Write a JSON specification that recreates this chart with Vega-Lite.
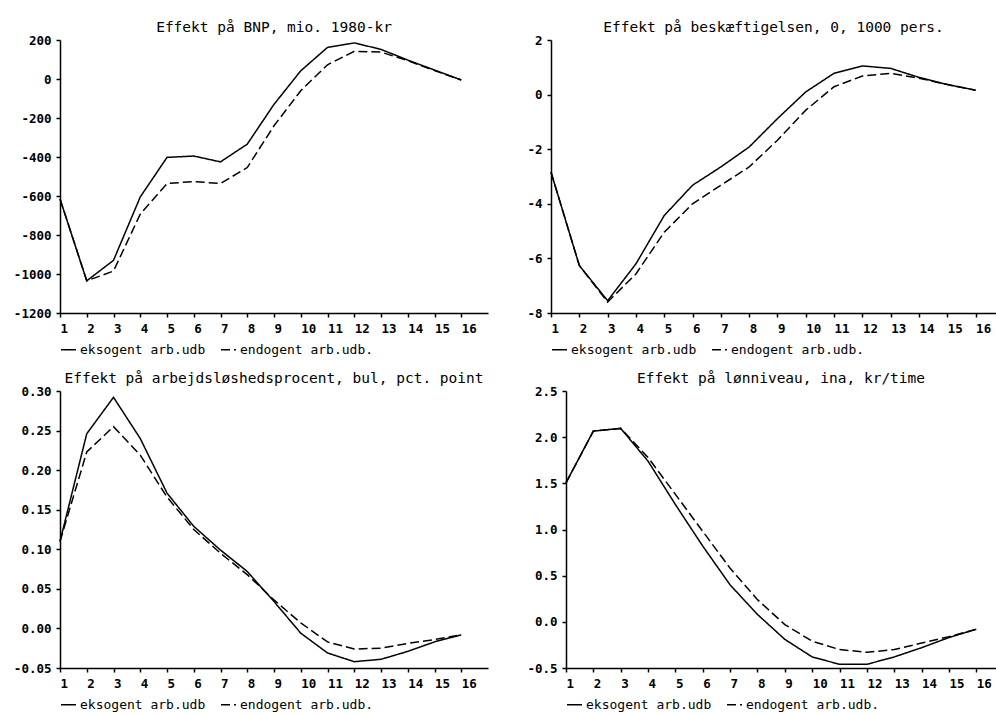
{
  "$schema": "https://vega.github.io/schema/vega-lite/v6.json",
  "background": "white",
  "padding": {"left": 10, "top": 19, "right": 0, "bottom": 0},
  "spacing": 13,
  "resolve": {"scale": {"strokeDash": "independent"}, "legend": {"strokeDash": "independent"}},
  "datasets": {
    "tl": [
      {"t":1,"s":"eksogent arb.udb","v":-615},{"t":2,"s":"eksogent arb.udb","v":-1035},{"t":3,"s":"eksogent arb.udb","v":-930},{"t":4,"s":"eksogent arb.udb","v":-605},
      {"t":5,"s":"eksogent arb.udb","v":-402},{"t":6,"s":"eksogent arb.udb","v":-395},{"t":7,"s":"eksogent arb.udb","v":-425},{"t":8,"s":"eksogent arb.udb","v":-334},
      {"t":9,"s":"eksogent arb.udb","v":-130},{"t":10,"s":"eksogent arb.udb","v":42},{"t":11,"s":"eksogent arb.udb","v":162},{"t":12,"s":"eksogent arb.udb","v":185},
      {"t":13,"s":"eksogent arb.udb","v":152},{"t":14,"s":"eksogent arb.udb","v":97},{"t":15,"s":"eksogent arb.udb","v":46},{"t":16,"s":"eksogent arb.udb","v":-5},
      {"t":1,"s":"endogent arb.udb.","v":-615},{"t":2,"s":"endogent arb.udb.","v":-1035},{"t":3,"s":"endogent arb.udb.","v":-985},{"t":4,"s":"endogent arb.udb.","v":-693},
      {"t":5,"s":"endogent arb.udb.","v":-536},{"t":6,"s":"endogent arb.udb.","v":-526},{"t":7,"s":"endogent arb.udb.","v":-536},{"t":8,"s":"endogent arb.udb.","v":-454},
      {"t":9,"s":"endogent arb.udb.","v":-240},{"t":10,"s":"endogent arb.udb.","v":-60},{"t":11,"s":"endogent arb.udb.","v":73},{"t":12,"s":"endogent arb.udb.","v":142},
      {"t":13,"s":"endogent arb.udb.","v":138},{"t":14,"s":"endogent arb.udb.","v":94},{"t":15,"s":"endogent arb.udb.","v":43},{"t":16,"s":"endogent arb.udb.","v":-5}
    ],
    "tr": [
      {"t":1,"s":"eksogent arb.udb","v":-2.84},{"t":2,"s":"eksogent arb.udb","v":-6.26},{"t":3,"s":"eksogent arb.udb","v":-7.55},{"t":4,"s":"eksogent arb.udb","v":-6.2},
      {"t":5,"s":"eksogent arb.udb","v":-4.43},{"t":6,"s":"eksogent arb.udb","v":-3.32},{"t":7,"s":"eksogent arb.udb","v":-2.65},{"t":8,"s":"eksogent arb.udb","v":-1.92},
      {"t":9,"s":"eksogent arb.udb","v":-0.88},{"t":10,"s":"eksogent arb.udb","v":0.1},{"t":11,"s":"eksogent arb.udb","v":0.78},{"t":12,"s":"eksogent arb.udb","v":1.05},
      {"t":13,"s":"eksogent arb.udb","v":0.96},{"t":14,"s":"eksogent arb.udb","v":0.63},{"t":15,"s":"eksogent arb.udb","v":0.37},{"t":16,"s":"eksogent arb.udb","v":0.16},
      {"t":1,"s":"endogent arb.udb.","v":-2.84},{"t":2,"s":"endogent arb.udb.","v":-6.26},{"t":3,"s":"endogent arb.udb.","v":-7.6},{"t":4,"s":"endogent arb.udb.","v":-6.57},
      {"t":5,"s":"endogent arb.udb.","v":-5.04},{"t":6,"s":"endogent arb.udb.","v":-4.0},{"t":7,"s":"endogent arb.udb.","v":-3.32},{"t":8,"s":"endogent arb.udb.","v":-2.65},
      {"t":9,"s":"endogent arb.udb.","v":-1.67},{"t":10,"s":"endogent arb.udb.","v":-0.57},{"t":11,"s":"endogent arb.udb.","v":0.29},{"t":12,"s":"endogent arb.udb.","v":0.68},
      {"t":13,"s":"endogent arb.udb.","v":0.78},{"t":14,"s":"endogent arb.udb.","v":0.6},{"t":15,"s":"endogent arb.udb.","v":0.37},{"t":16,"s":"endogent arb.udb.","v":0.16}
    ],
    "bl": [
      {"t":1,"s":"eksogent arb.udb","v":0.110},{"t":2,"s":"eksogent arb.udb","v":0.246},{"t":3,"s":"eksogent arb.udb","v":0.292},{"t":4,"s":"eksogent arb.udb","v":0.240},
      {"t":5,"s":"eksogent arb.udb","v":0.171},{"t":6,"s":"eksogent arb.udb","v":0.129},{"t":7,"s":"eksogent arb.udb","v":0.099},{"t":8,"s":"eksogent arb.udb","v":0.072},
      {"t":9,"s":"eksogent arb.udb","v":0.034},{"t":10,"s":"eksogent arb.udb","v":-0.006},{"t":11,"s":"eksogent arb.udb","v":-0.031},{"t":12,"s":"eksogent arb.udb","v":-0.042},
      {"t":13,"s":"eksogent arb.udb","v":-0.039},{"t":14,"s":"eksogent arb.udb","v":-0.029},{"t":15,"s":"eksogent arb.udb","v":-0.017},{"t":16,"s":"eksogent arb.udb","v":-0.008},
      {"t":1,"s":"endogent arb.udb.","v":0.110},{"t":2,"s":"endogent arb.udb.","v":0.223},{"t":3,"s":"endogent arb.udb.","v":0.255},{"t":4,"s":"endogent arb.udb.","v":0.219},
      {"t":5,"s":"endogent arb.udb.","v":0.166},{"t":6,"s":"endogent arb.udb.","v":0.125},{"t":7,"s":"endogent arb.udb.","v":0.095},{"t":8,"s":"endogent arb.udb.","v":0.068},
      {"t":9,"s":"endogent arb.udb.","v":0.036},{"t":10,"s":"endogent arb.udb.","v":0.007},{"t":11,"s":"endogent arb.udb.","v":-0.017},{"t":12,"s":"endogent arb.udb.","v":-0.026},
      {"t":13,"s":"endogent arb.udb.","v":-0.025},{"t":14,"s":"endogent arb.udb.","v":-0.019},{"t":15,"s":"endogent arb.udb.","v":-0.014},{"t":16,"s":"endogent arb.udb.","v":-0.008}
    ],
    "br": [
      {"t":1,"s":"eksogent arb.udb","v":1.506},{"t":2,"s":"eksogent arb.udb","v":2.066},{"t":3,"s":"eksogent arb.udb","v":2.095},{"t":4,"s":"eksogent arb.udb","v":1.74},
      {"t":5,"s":"eksogent arb.udb","v":1.27},{"t":6,"s":"eksogent arb.udb","v":0.82},{"t":7,"s":"eksogent arb.udb","v":0.40},{"t":8,"s":"eksogent arb.udb","v":0.08},
      {"t":9,"s":"eksogent arb.udb","v":-0.19},{"t":10,"s":"eksogent arb.udb","v":-0.38},{"t":11,"s":"eksogent arb.udb","v":-0.46},{"t":12,"s":"eksogent arb.udb","v":-0.46},
      {"t":13,"s":"eksogent arb.udb","v":-0.38},{"t":14,"s":"eksogent arb.udb","v":-0.28},{"t":15,"s":"eksogent arb.udb","v":-0.17},{"t":16,"s":"eksogent arb.udb","v":-0.08},
      {"t":1,"s":"endogent arb.udb.","v":1.506},{"t":2,"s":"endogent arb.udb.","v":2.066},{"t":3,"s":"endogent arb.udb.","v":2.095},{"t":4,"s":"endogent arb.udb.","v":1.78},
      {"t":5,"s":"endogent arb.udb.","v":1.38},{"t":6,"s":"endogent arb.udb.","v":0.98},{"t":7,"s":"endogent arb.udb.","v":0.58},{"t":8,"s":"endogent arb.udb.","v":0.24},
      {"t":9,"s":"endogent arb.udb.","v":-0.03},{"t":10,"s":"endogent arb.udb.","v":-0.21},{"t":11,"s":"endogent arb.udb.","v":-0.30},{"t":12,"s":"endogent arb.udb.","v":-0.33},
      {"t":13,"s":"endogent arb.udb.","v":-0.30},{"t":14,"s":"endogent arb.udb.","v":-0.23},{"t":15,"s":"endogent arb.udb.","v":-0.16},{"t":16,"s":"endogent arb.udb.","v":-0.08}
    ]
  },
  "vconcat": [
    {
      "hconcat": [
        {
          "width": 428, "height": 273,
          "title": "Effekt på BNP, mio. 1980-kr",
          "data": {"name": "tl"},
          "mark": {"type": "line", "interpolate": "linear"},
          "encoding": {
            "x": {"field": "t", "type": "quantitative", "scale": {"domain": [1, 17], "nice": false, "zero": false},
                  "axis": {"title": null, "values": [1,2,3,4,5,6,7,8,9,10,11,12,13,14,15,16], "format": "d", "minExtent": 25, "maxExtent": 25}},
            "y": {"field": "v", "type": "quantitative", "scale": {"domain": [-1200, 200], "nice": false, "zero": false},
                  "axis": {"title": null, "values": [-1200,-1000,-800,-600,-400,-200,0,200], "format": "d", "minExtent": 50, "maxExtent": 50}},
            "strokeDash": {"field": "s", "type": "nominal", "scale": {"domain": ["eksogent arb.udb", "endogent arb.udb."], "range": [[1,0],[9,4]]}, "legend": {"title": null}}
          }
        },
        {
          "width": 445, "height": 273,
          "title": "Effekt på beskæftigelsen, 0, 1000 pers.",
          "data": {"name": "tr"},
          "mark": {"type": "line", "interpolate": "linear"},
          "encoding": {
            "x": {"field": "t", "type": "quantitative", "scale": {"domain": [1, 16.72], "nice": false, "zero": false},
                  "axis": {"title": null, "values": [1,2,3,4,5,6,7,8,9,10,11,12,13,14,15,16], "format": "d", "minExtent": 25, "maxExtent": 25}},
            "y": {"field": "v", "type": "quantitative", "scale": {"domain": [-8, 2], "nice": false, "zero": false},
                  "axis": {"title": null, "values": [-8,-6,-4,-2,0,2], "format": "d", "minExtent": 30, "maxExtent": 30}},
            "strokeDash": {"field": "s", "type": "nominal", "scale": {"domain": ["eksogent arb.udb", "endogent arb.udb."], "range": [[1,0],[9,4]]}, "legend": {"title": null}}
          }
        }
      ],
      "spacing": 33,
      "resolve": {"scale": {"strokeDash": "independent"}, "legend": {"strokeDash": "independent"}}
    },
    {
      "hconcat": [
        {
          "width": 428, "height": 277,
          "title": "Effekt på arbejdsløshedsprocent, bul, pct. point",
          "data": {"name": "bl"},
          "mark": {"type": "line", "interpolate": "linear"},
          "encoding": {
            "x": {"field": "t", "type": "quantitative", "scale": {"domain": [1, 17], "nice": false, "zero": false},
                  "axis": {"title": null, "values": [1,2,3,4,5,6,7,8,9,10,11,12,13,14,15,16], "format": "d", "minExtent": 25, "maxExtent": 25}},
            "y": {"field": "v", "type": "quantitative", "scale": {"domain": [-0.05, 0.3], "nice": false, "zero": false},
                  "axis": {"title": null, "values": [-0.05,0,0.05,0.1,0.15,0.2,0.25,0.3], "format": ".2f", "minExtent": 50, "maxExtent": 50}},
            "strokeDash": {"field": "s", "type": "nominal", "scale": {"domain": ["eksogent arb.udb", "endogent arb.udb."], "range": [[1,0],[9,4]]}, "legend": {"title": null}}
          }
        },
        {
          "width": 430, "height": 277,
          "title": "Effekt på lønniveau, ina, kr/time",
          "data": {"name": "br"},
          "mark": {"type": "line", "interpolate": "linear"},
          "encoding": {
            "x": {"field": "t", "type": "quantitative", "scale": {"domain": [1, 16.72], "nice": false, "zero": false},
                  "axis": {"title": null, "values": [1,2,3,4,5,6,7,8,9,10,11,12,13,14,15,16], "format": "d", "minExtent": 25, "maxExtent": 25}},
            "y": {"field": "v", "type": "quantitative", "scale": {"domain": [-0.5, 2.5], "nice": false, "zero": false},
                  "axis": {"title": null, "values": [-0.5,0,0.5,1,1.5,2,2.5], "format": ".1f", "minExtent": 40, "maxExtent": 40}},
            "strokeDash": {"field": "s", "type": "nominal", "scale": {"domain": ["eksogent arb.udb", "endogent arb.udb."], "range": [[1,0],[9,4]]}, "legend": {"title": null}}
          }
        }
      ],
      "spacing": 38,
      "resolve": {"scale": {"strokeDash": "independent"}, "legend": {"strokeDash": "independent"}}
    }
  ],
  "config": {
    "view": {"stroke": null},
    "locale": {"number": {"decimal": ".", "thousands": "", "grouping": [3], "currency": ["", ""], "minus": "-"}},
    "axis": {"domainColor": "black", "tickColor": "black", "labelColor": "black", "labelFont": "DejaVu Sans Mono", "labelFontSize": 12.5, "labelFontWeight": "bold", "grid": false, "tickSize": 4, "domainWidth": 1.5, "tickWidth": 1.5},
    "axisX": {"labelAlign": "left", "labelPadding": 5, "labelFlush": false, "labelOverlap": false, "labelBaseline": "top"},
    "axisY": {"labelPadding": 5, "labelOverlap": false, "labelFlush": false},
    "legend": {"orient": "bottom", "direction": "horizontal", "symbolType": "stroke", "symbolSize": 225, "symbolStrokeWidth": 1.5, "symbolStrokeColor": "black", "labelFont": "DejaVu Sans Mono", "labelFontSize": 13, "labelColor": "black", "labelOffset": 3, "columnPadding": 12, "padding": 0, "offset": 3},
    "title": {"font": "DejaVu Sans Mono", "fontSize": 14.5, "fontWeight": "normal", "color": "black", "offset": -1, "frame": "group", "anchor": "middle", "baseline": "alphabetic"},
    "line": {"color": "black", "strokeWidth": 1.5}
  }
}
